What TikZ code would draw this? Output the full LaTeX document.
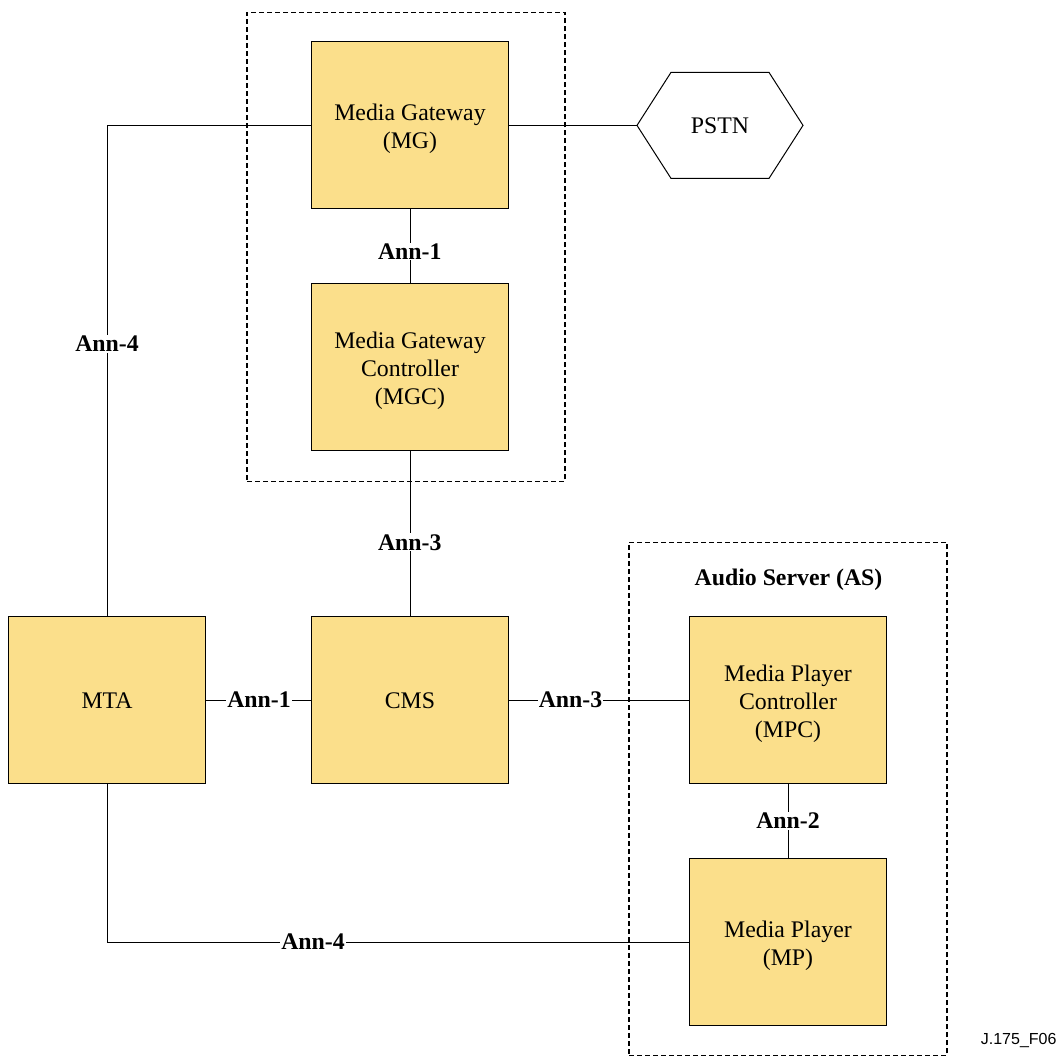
\documentclass[tikz,border=0pt]{standalone}
\usepackage{fontspec}
\setmainfont{Liberation Serif}
\newfontfamily\sansf{Liberation Sans}
\usetikzlibrary{calc}
\definecolor{boxfill}{RGB}{251,223,139}
\begin{document}
\begin{tikzpicture}[x=1pt,y=1pt,
  box/.style={draw=black,fill=boxfill,line width=1pt,minimum width=197pt,minimum height=167pt,inner sep=0pt,align=center,font=\fontsize{23.8}{27.8}\selectfont},
  boxtext/.style={inner sep=0pt,align=center,yshift=-3.2pt,font=\fontsize{23.8}{27.8}\selectfont},
  hexa/.style={draw=black,fill=white,line width=1pt},
  grp/.style={draw=black,line width=1.4pt,dash pattern=on 5pt off 3pt},
  wire/.style={draw=black,line width=1pt},
  lab/.style={fill=white,inner sep=1pt,font=\bfseries\fontsize{23.8}{27.8}\selectfont}]
\useasboundingbox (0,0) rectangle (1061,1057);
% dashed groups
\node[grp,minimum width=318pt,minimum height=469pt,inner sep=0pt] (g1) at (406,{1057-247}) {};
\node[grp,minimum width=318pt,minimum height=513pt,inner sep=0pt] (g2) at (788,{1057-799}) {};
% boxes
\node[box] (mg) at (410,{1057-125.4}) {};
\node[boxtext] (mgt) at (mg) {Media Gateway\\(MG)};
\node[box] (mgc) at (410,{1057-367.4}) {};
\node[boxtext] (mgct) at (mgc) {Media Gateway\\Controller\\(MGC)};
\node[box] (cms) at (410,{1057-700.4}) {CMS};
\node[box] (mta) at (107,{1057-700.4}) {MTA};
\node[box] (mpc) at (788,{1057-700.4}) {};
\node[boxtext] (mpct) at (mpc) {Media Player\\Controller\\(MPC)};
\node[box] (mp) at (788,{1057-942.4}) {};
\node[boxtext] (mpt) at (mp) {Media Player\\(MP)};
% PSTN
\coordinate (p1) at (637,{1057-125.4});
\coordinate (p2) at (671,{1057-72.4});
\coordinate (p3) at (769,{1057-72.4});
\coordinate (p4) at (803,{1057-125.4});
\coordinate (p5) at (769,{1057-178.4});
\coordinate (p6) at (671,{1057-178.4});
\draw[hexa] (p1)--(p2)--(p3)--(p4)--(p5)--(p6)--cycle;
\node[font=\fontsize{23.8}{27.8}\selectfont] (pstn) at (720,{1057-126}) {PSTN};
% connectors
\draw[wire] (mg.east) -- (p1);
\draw[wire] (mg.south) -- (mgc.north);
\node[lab] (l1) at (409.8,{1057-251.5}) {Ann-1};
\draw[wire] (mgc.south) -- (cms.north);
\node[lab] (l2) at (409.8,{1057-542.5}) {Ann-3};
\draw[wire] (mta.east) -- (cms.west);
\node[lab] (l3) at (259,{1057-699.5}) {Ann-1};
\draw[wire] (cms.east) -- (mpc.west);
\node[lab] (l4) at (570.5,{1057-700}) {Ann-3};
\draw[wire] (mpc.south) -- (mp.north);
\node[lab] (l5) at (788,{1057-821}) {Ann-2};
\draw[wire] (mta.north) |- (mg.west);
\node[lab] (a4a) at (107,{1057-344}) {Ann-4};
\draw[wire] (mta.south) |- (mp.west);
\node[lab] (a4b) at (313,{1057-941.5}) {Ann-4};
\node[font=\bfseries\fontsize{23.8}{27.8}\selectfont] (ast) at (788.5,{1057-579.5}) {Audio Server (AS)};
\node[font=\sansf\fontsize{16}{18}\selectfont,anchor=east] (fig) at (1060,{1057-1041}) {J.175\_F06};
\end{tikzpicture}
\end{document}
